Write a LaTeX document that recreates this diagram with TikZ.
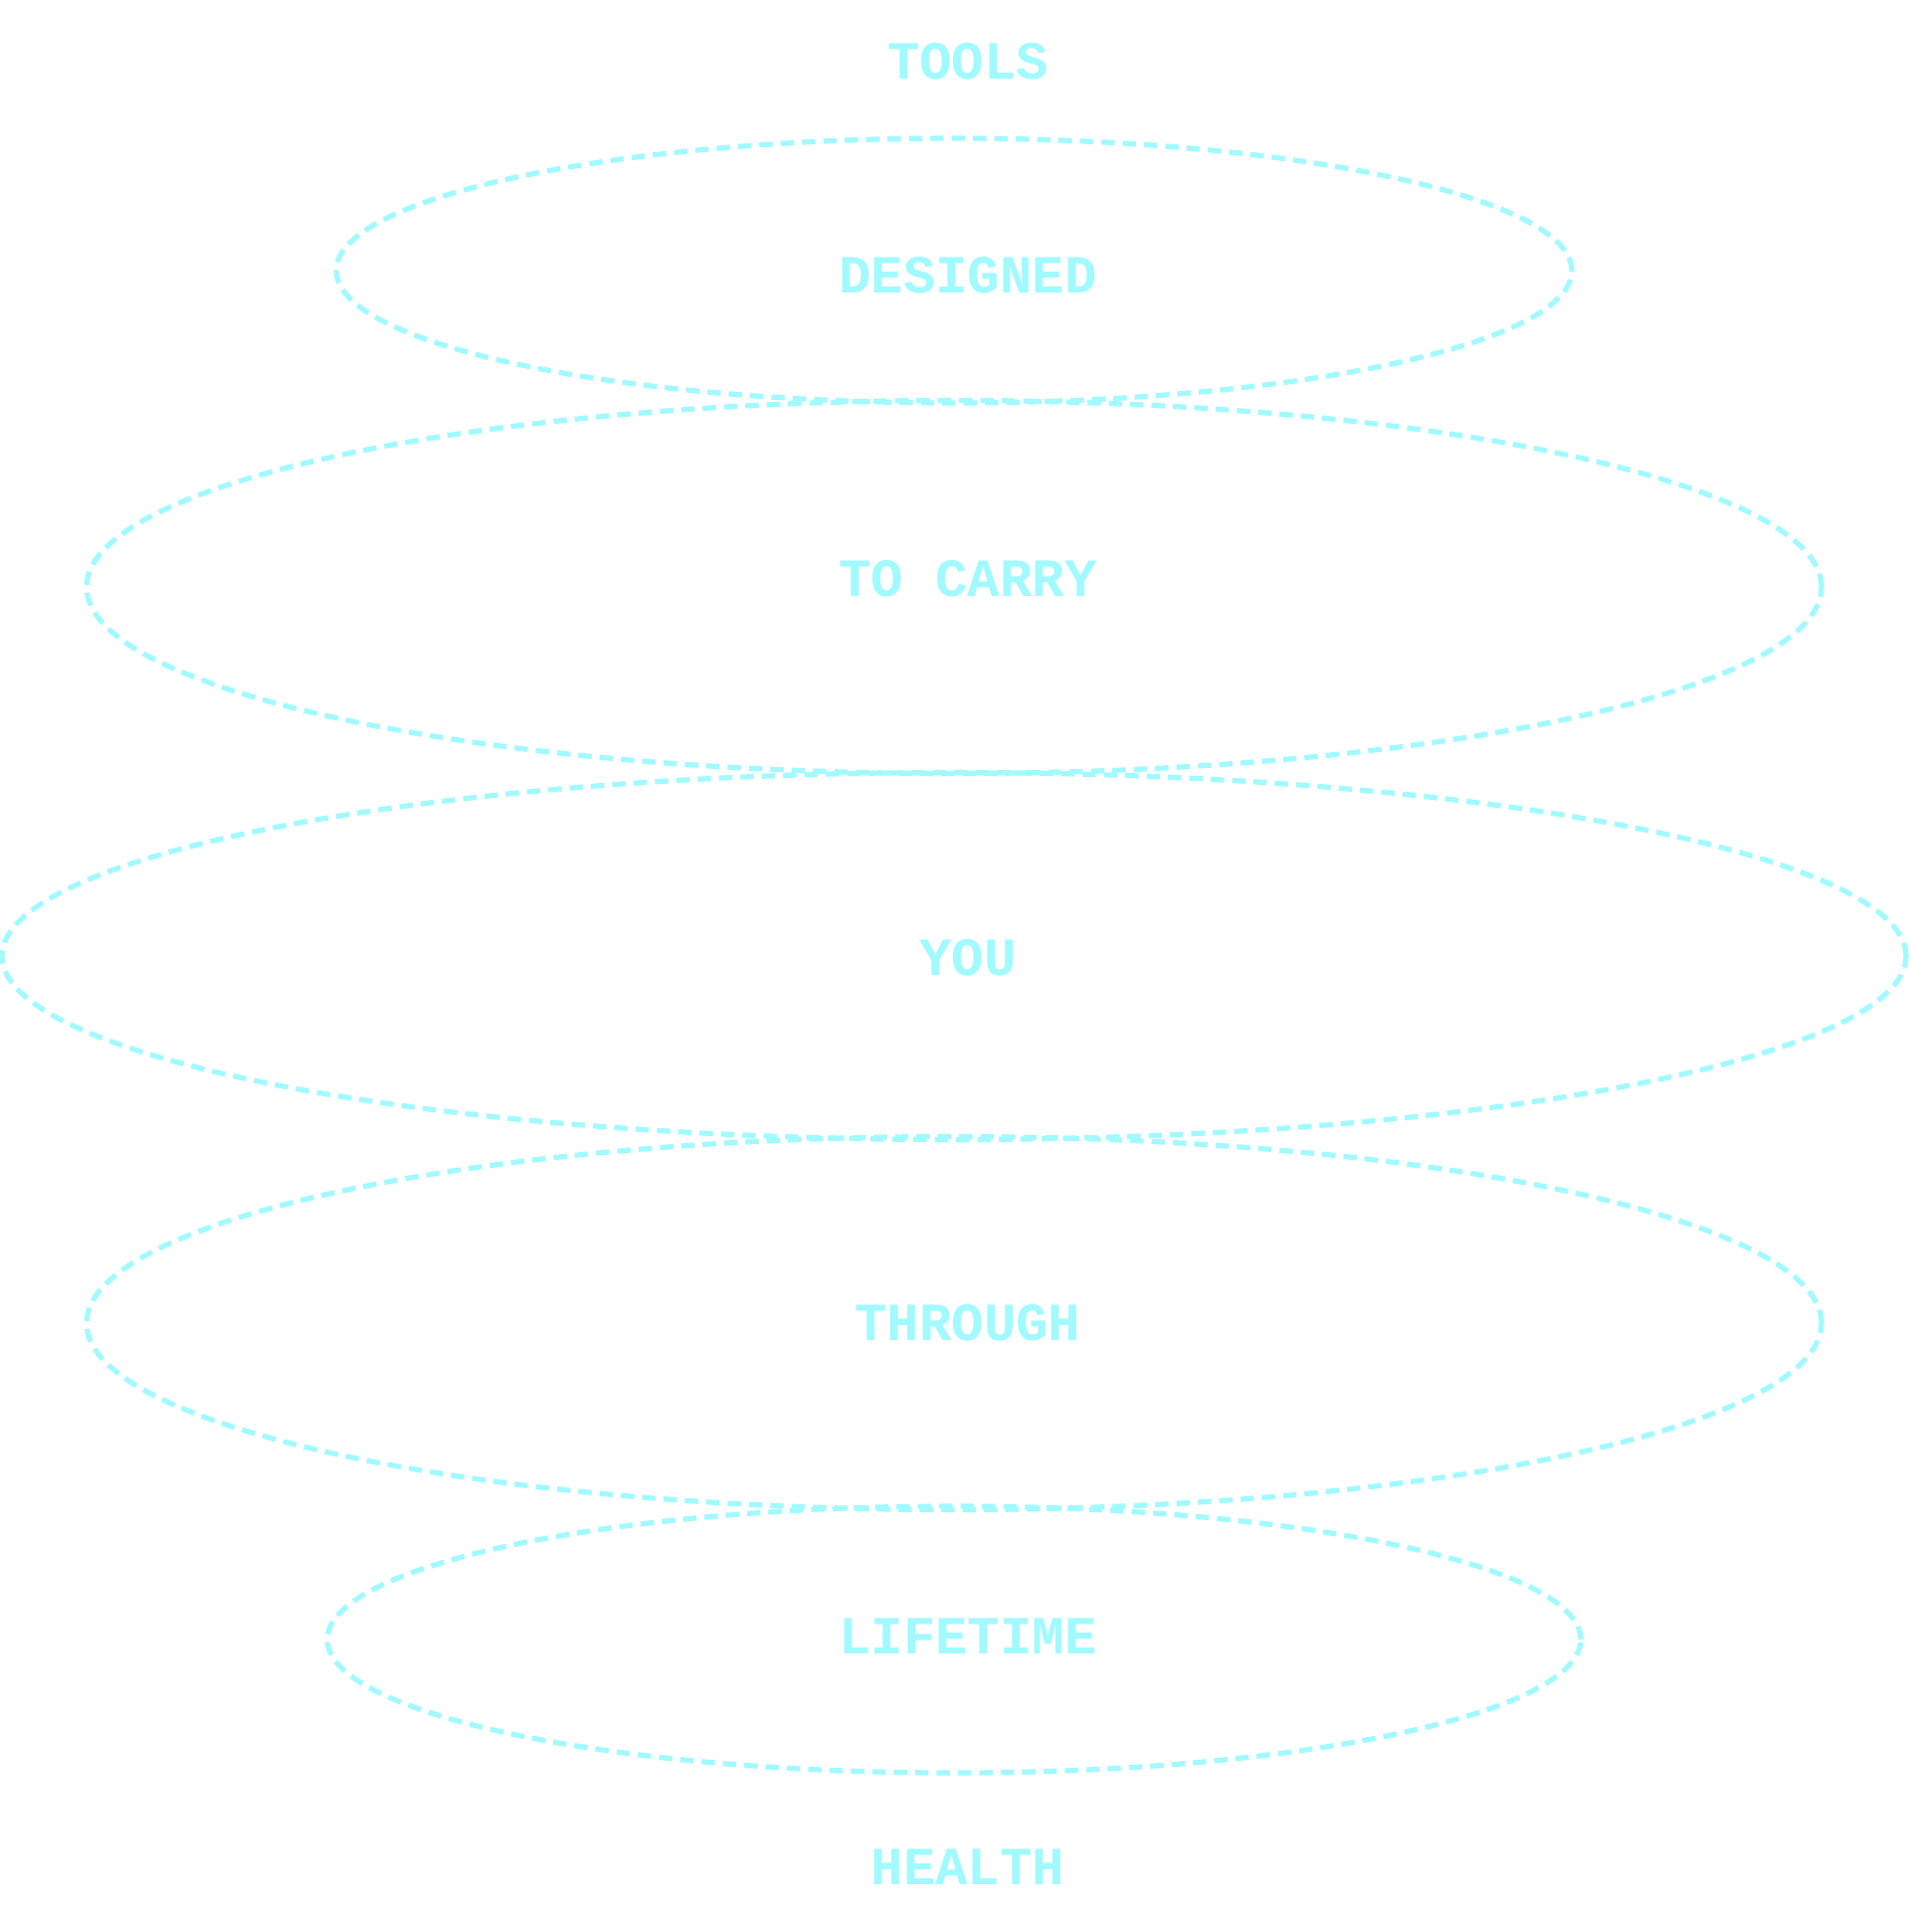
\documentclass[tikz,border=0pt]{standalone}
\usepackage{fontspec}
\setmonofont{Liberation Mono}
\usetikzlibrary{shapes.geometric}
\definecolor{cyanline}{HTML}{A0FAFF}
\tikzset{
  ring/.style={draw=cyanline, ellipse, inner sep=0pt, line width=5.2pt,
    dash pattern=on 13.5pt off 8pt},
  word/.style={text=cyanline, font=\ttfamily\bfseries\fontsize{54}{54}\selectfont, inner sep=0pt, anchor=center}
}
\begin{document}
\begin{tikzpicture}[x=1pt,y=-1pt]
\useasboundingbox (0,0) rectangle (1920,1942);
\node[ring, minimum width=1242pt, minimum height=266pt] (e1) at (959,272) {};
\node[ring, minimum width=1744pt, minimum height=375pt] (e2) at (959,590) {};
\node[ring, minimum width=1914pt, minimum height=369pt] (e3) at (959,961) {};
\node[ring, minimum width=1744pt, minimum height=375pt] (e4) at (959,1330) {};
\node[ring, minimum width=1260pt, minimum height=268pt] (e5) at (959,1648) {};
\node[word] (t0) at (973,62) {TOOLS};
\node[word] (t1) at (973,277) {DESIGNED};
\node[word] (t2) at (973,582) {TO CARRY};
\node[word] (t3) at (973,963) {YOU};
\node[word] (t4) at (973,1330) {THROUGH};
\node[word] (t5) at (973,1645) {LIFETIME};
\node[word] (t6) at (973,1877) {HEALTH};
\end{tikzpicture}
\end{document}
